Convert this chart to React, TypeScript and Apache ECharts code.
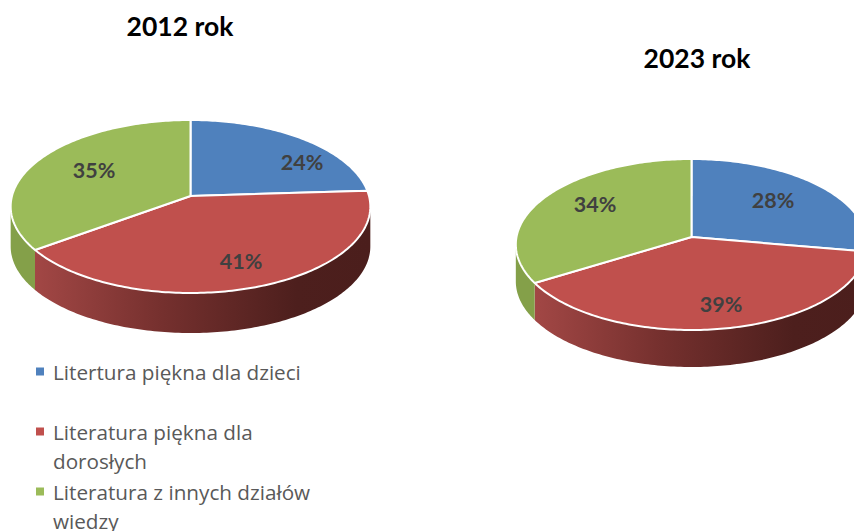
import React, { useEffect, useRef } from "react";
import * as echarts from "echarts";

const categories = ["Litertura piękna dla dzieci", "Literatura piękna dla dorosłych", "Literatura z innych działów wiedzy"];
const years = ["2012 rok", "2023 rok"];
const childrenLit = [24, 28];
const adultLit = [41, 39];
const otherLit = [35, 34];

const seriesValues = [childrenLit, adultLit, otherLit];
const faceColors = ["#4f81bd", "#c0504d", "#9bbb59"];

// Perspective layout of each pie
const pies = [
  { cx: 190.5, cy: 196, r: 178.5, up: 76, down: 97, depth: 40 },
  { cx: 691.5, cy: 237, r: 175, up: 78, down: 93, depth: 37 },
];
const labelOffsets = [
  [[111.5, -34], [50.5, 65], [-96.5, -26]],
  [[81.5, -37], [29.5, 67], [-96.5, -33]],
];
const legendLines = [["Litertura piękna dla dzieci"], ["Literatura piękna dla", "dorosłych"], ["Literatura z innych działów", "wiedzy"]];
const legendTops = [357, 388, 448];
const FONT = "Lato";
const LEGEND_FONT = "Open Sans";

function project(p: any, angle: number, rho = 1) {
  const b = (p.down - p.up) / (p.down + p.up);
  const a = p.up * (1 + b);
  const u = Math.sin(angle) * rho;
  const v = Math.cos(angle) * rho;
  const d = 1 + b * v;
  return [p.cx + (p.r * u) / d, p.cy - (a * v) / d];
}

function arc(p: any, from: number, to: number, dy = 0) {
  const n = Math.max(2, Math.ceil(((to - from) * 180) / Math.PI));
  const pts: number[][] = [];
  for (let i = 0; i <= n; i++) {
    const q = project(p, from + ((to - from) * i) / n);
    pts.push([q[0], q[1] + dy]);
  }
  return pts;
}

function makeRenderItem(catIndex: number) {
  return (params: any, api: any) => {
    const pieIndex = params.dataIndex;
    const p = pies[pieIndex];
    const value = api.value(0);
    const total = seriesValues.reduce((s, arr) => s + arr[pieIndex], 0);
    let before = 0;
    for (let i = 0; i < catIndex; i++) before += seriesValues[i][pieIndex];
    const start = (before / total) * 2 * Math.PI;
    const end = ((before + value) / total) * 2 * Math.PI;
    const children: any[] = [];

    const b = (p.down - p.up) / (p.down + p.up);
    const tangentR = Math.PI / 2 + Math.asin(b);
    const tangentL = (3 * Math.PI) / 2 - Math.asin(b);
    const ws = Math.max(start, tangentR);
    const we = Math.min(end, tangentL);
    if (we > ws) {
      const top = arc(p, ws, we);
      const bottom = arc(p, ws, we, p.depth).reverse();
      const fill =
        catIndex === 1
          ? new echarts.graphic.LinearGradient(1, 0, 0, 0, [
              { offset: 0, color: "#4b1e1c" },
              { offset: 0.22, color: "#4d1f1d" },
              { offset: 0.62, color: "#75302e" },
              { offset: 1, color: "#a24745" },
            ])
          : catIndex === 2
          ? "#84a049"
          : "#3f678f";
      children.push({
        type: "polygon",
        shape: { points: top.concat(bottom) },
        style: { fill, stroke: "none" },
      });
      if (catIndex === 2) {
        const e = project(p, end);
        children.push({
          type: "line",
          shape: { x1: e[0], y1: e[1], x2: e[0], y2: e[1] + p.depth },
          style: { stroke: "#f4f4f0", lineWidth: 1.5 },
        });
      }
    }

    children.push({
      type: "polygon",
      shape: { points: [[p.cx, p.cy]].concat(arc(p, start, end)) },
      style: { fill: faceColors[catIndex], stroke: "#ffffff", lineWidth: 2, lineJoin: "round" },
    });
    const off = labelOffsets[pieIndex][catIndex];
    children.push({
      type: "text",
      x: p.cx + off[0],
      y: p.cy + off[1],
      z2: 20,
      style: {
        text: value + "%",
        fill: "#404040",
        font: `bold 21.5px ${FONT}`,
        align: "center",
        verticalAlign: "middle",
      },
    });
    return { type: "group", children };
  };
}

export default function App() {
  const ref = useRef<HTMLDivElement>(null);
  useEffect(() => {
    const chart = echarts.init(ref.current!, undefined, { renderer: "svg" });
    chart.setOption({
      animation: false,
      backgroundColor: "#ffffff",
      title: [
        { text: years[0], left: 180, top: 12, textAlign: "center", padding: 0, textStyle: { fontFamily: FONT, fontWeight: "bold", fontSize: 26.5, color: "#000" } },
        { text: years[1], left: 697, top: 44, textAlign: "center", padding: 0, textStyle: { fontFamily: FONT, fontWeight: "bold", fontSize: 26.5, color: "#000" } },
      ],
      legend: categories.map((name, i) => ({
        data: [name],
        left: 36,
        top: legendTops[i],
        padding: 0,
        icon: "rect",
        itemWidth: 8,
        itemHeight: 8,
        selectedMode: false,
        formatter: () => (legendLines[i].length > 1 ? "\n" : "") + legendLines[i].join("\n"),
        textStyle: { fontFamily: LEGEND_FONT, fontSize: 20.7, color: "#595959", lineHeight: 29, padding: [0, 0, 0, 4] },
      })),
      series: categories.map((name, i) => ({
        type: "custom",
        name,
        coordinateSystem: "none",
        silent: true,
        itemStyle: { color: faceColors[i] },
        data: seriesValues[i].map((v) => [v]),
        renderItem: makeRenderItem(i),
      })),
    });
    return () => chart.dispose();
  }, []);
  return <div ref={ref} style={{ position: "fixed", left: 0, top: 0, width: 854, height: 531 }} />;
}
